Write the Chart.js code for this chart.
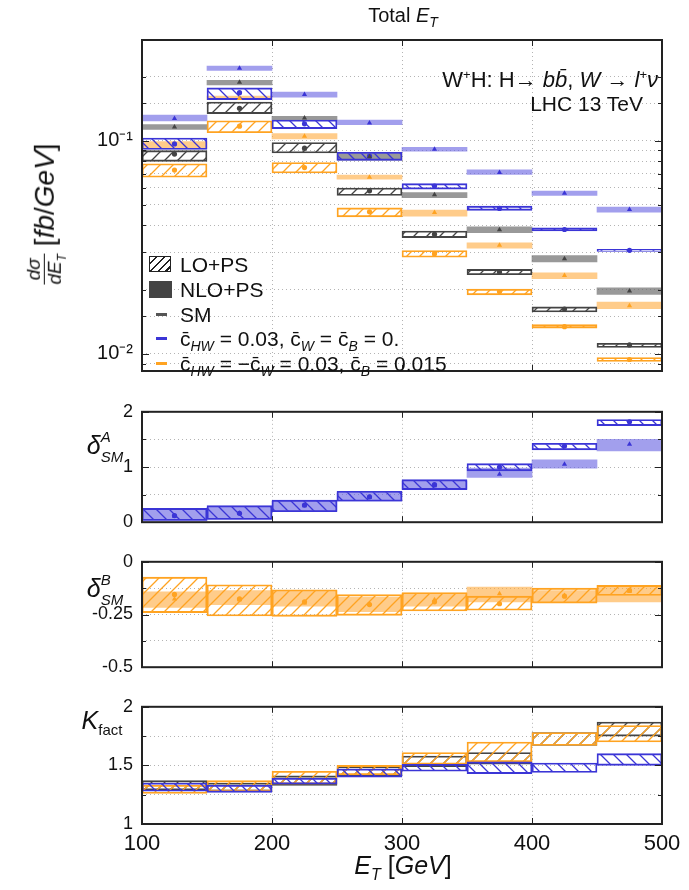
<!DOCTYPE html>
<html>
<head>
<meta charset="utf-8">
<script src="https://cdn.jsdelivr.net/npm/chart.js@4.4.1/dist/chart.umd.min.js"></script>
<style>
  body { margin: 0; background: #fff; }
  #wrap { position: relative; width: 689px; height: 890px; font-family: "Liberation Sans", Arial, sans-serif; color: #111; }
  #wrap canvas { position: absolute; left: 0; }
  .lbl { position: absolute; white-space: nowrap; line-height: 1; }
  .mid { transform: translate(-50%, -50%); }
  .frac { display: inline-flex; flex-direction: column; vertical-align: middle; font-size: 19px; text-align: center; line-height: 1.05; }
  .frac .num { border-bottom: 1.3px solid #111; padding: 0 1px; }
  .ss { display: inline-block; vertical-align: -0.5em; line-height: 1.3; font-size: 15px; }
  .ss span { display: block; }
  .leg { position: absolute; left: 149px; font-size: 21px; white-space: nowrap; }
  .leg .txt { position: absolute; left: 31px; top: -11px; }
  .leg sub { font-size: 14px; font-style: italic; }
  .box { position: absolute; left: 0; top: -8px; width: 20px; height: 14px; }
  .dash { position: absolute; left: 7px; top: -1.5px; width: 11px; height: 3px; }
</style>
</head>
<body>
<div id="wrap">
  <canvas id="main" width="689" height="392" style="top:0"></canvas>
  <canvas id="deltaA" width="689" height="150" style="top:392px"></canvas>
  <canvas id="deltaB" width="689" height="145" style="top:542px"></canvas>
  <canvas id="kfact" width="689" height="203" style="top:687px"></canvas>

  <div class="lbl mid" style="left:403px; top:17px; font-size:20px;">Total <i>E<sub style="font-size:14px">T</sub></i></div>

  <div class="lbl" style="right:31px; top:68px; font-size:22px;">W<sup style="font-size:13px">+</sup>H: H&rarr; <i>b</i><i>b&#772;</i>, <i>W</i> &rarr; <i>l</i><sup style="font-size:13px">+</sup><i>&nu;</i></div>
  <div class="lbl" style="right:46px; top:93px; font-size:21px;">LHC 13 TeV</div>

  <div class="lbl" style="left:46px; top:214px; transform: translate(-50%, -50%) rotate(-90deg); font-size:28px;">
    <span class="frac"><span class="num"><i>d&sigma;</i></span><span><i>dE<sub style="font-size:12px">T</sub></i></span></span>
    [<i>fb</i>/<i>GeV</i>]
  </div>
  <div class="lbl mid" style="left:105px; top:446px; font-size:25px;"><i>&delta;</i><span class="ss"><span><i>A</i></span><span><i>SM</i></span></span></div>
  <div class="lbl mid" style="left:105px; top:589px; font-size:25px;"><i>&delta;</i><span class="ss"><span><i>B</i></span><span><i>SM</i></span></span></div>
  <div class="lbl mid" style="left:102px; top:722px; font-size:25px;"><i>K</i><sub style="font-size:15px">fact</sub></div>
  <div class="lbl mid" style="left:403px; top:868px; font-size:25px;"><i>E<sub style="font-size:16px">T</sub></i> [<i>GeV</i>]</div>

  <div class="leg" style="top:264px">
    <div class="box" style="border:1.5px solid #222; background: repeating-linear-gradient(135deg, transparent 0 4px, #222 4px 5.5px);"></div>
    <div class="txt">LO+PS</div>
  </div>
  <div class="leg" style="top:289px">
    <div class="box" style="background:#444; width:23px; height:17px;"></div>
    <div class="txt">NLO+PS</div>
  </div>
  <div class="leg" style="top:314px">
    <div class="dash" style="background:#555"></div>
    <div class="txt">SM</div>
  </div>
  <div class="leg" style="top:338px">
    <div class="dash" style="background:#3b35d6"></div>
    <div class="txt">c&#772;<sub>HW</sub> = 0.03, c&#772;<sub>W</sub> = c&#772;<sub>B</sub> = 0.</div>
  </div>
  <div class="leg" style="top:363px">
    <div class="dash" style="background:#ffa321"></div>
    <div class="txt">c&#772;<sub>HW</sub> = &minus;c&#772;<sub>W</sub> = 0.03, c&#772;<sub>B</sub> = 0.015</div>
  </div>
</div>

<script>
// E_T bins, 50 GeV wide, from 100 to 500 GeV
const binCenters = [125, 175, 225, 275, 325, 375, 425, 475];

// dsigma/dE_T [fb/GeV] -- SM
const smLoLow = [0.080, 0.134, 0.0876, 0.0553, 0.0351, 0.0235, 0.0157, 0.0107];
const smLoHigh = [0.0898, 0.152, 0.098, 0.060, 0.0377, 0.0249, 0.0166, 0.0112];
const smLo = [0.0866, 0.142, 0.0923, 0.0582, 0.0364, 0.0242, 0.0162, 0.0110];
const smNloLow = [0.113, 0.183, 0.125, 0.081, 0.0541, 0.0370, 0.0270, 0.0190];
const smNloHigh = [0.119, 0.192, 0.130, 0.087, 0.0571, 0.0394, 0.0289, 0.0204];
const smNlo = [0.116, 0.188, 0.128, 0.084, 0.0557, 0.0382, 0.0279, 0.0197];

// cHW = 0.03, cW = cB = 0
const aLoLow = [0.091, 0.156, 0.114, 0.0809, 0.0593, 0.0471, 0.0377, 0.0302];
const aLoHigh = [0.103, 0.177, 0.125, 0.0882, 0.0629, 0.0493, 0.039, 0.0309];
const aLo = [0.0966, 0.168, 0.120, 0.0846, 0.0613, 0.0481, 0.0383, 0.0306];
const aNloLow = [0.124, 0.214, 0.160, 0.119, 0.0892, 0.0694, 0.0553, 0.0462];
const aNloHigh = [0.132, 0.224, 0.169, 0.125, 0.0932, 0.0730, 0.058, 0.0488];
const aNlo = [0.127, 0.219, 0.165, 0.121, 0.0913, 0.0710, 0.0567, 0.0476];

// cHW = -cW = 0.03, cB = 0.015
const bLoLow = [0.0674, 0.109, 0.0706, 0.0439, 0.0284, 0.0189, 0.0132, 0.0092];
const bLoHigh = [0.078, 0.124, 0.079, 0.0484, 0.0305, 0.0201, 0.0137, 0.0096];
const bLo = [0.0728, 0.117, 0.0748, 0.0464, 0.0295, 0.0196, 0.0134, 0.0094];
const bNloLow = [0.092, 0.156, 0.102, 0.066, 0.0443, 0.0313, 0.0225, 0.0163];
const bNloHigh = [0.099, 0.162, 0.108, 0.069, 0.0473, 0.0332, 0.0240, 0.0175];
const bNlo = [0.096, 0.158, 0.105, 0.0674, 0.0460, 0.0323, 0.0233, 0.0168];

// relative deviation from SM, scenario A
const dALoLow = [0.03, 0.05, 0.19, 0.38, 0.59, 0.93, 1.31, 1.75];
const dALoHigh = [0.25, 0.30, 0.40, 0.56, 0.77, 1.06, 1.43, 1.86];
const dALo = [0.12, 0.16, 0.31, 0.46, 0.68, 1.00, 1.38, 1.82];
const dANloLow = [0.02, 0.05, 0.20, 0.38, 0.60, 0.81, 0.98, 1.29];
const dANloHigh = [0.22, 0.27, 0.38, 0.53, 0.75, 0.98, 1.13, 1.50];
const dANlo = [0.11, 0.16, 0.30, 0.45, 0.66, 0.87, 1.05, 1.41];

// relative deviation from SM, scenario B
const dBLoLow = [-0.241, -0.257, -0.259, -0.254, -0.233, -0.230, -0.196, -0.160];
const dBLoHigh = [-0.073, -0.109, -0.133, -0.156, -0.146, -0.163, -0.125, -0.112];
const dBLo = [-0.155, -0.176, -0.19, -0.203, -0.19, -0.199, -0.163, -0.136];
const dBNloLow = [-0.217, -0.203, -0.21, -0.237, -0.21, -0.19, -0.19, -0.19];
const dBNloHigh = [-0.142, -0.136, -0.136, -0.169, -0.149, -0.12, -0.136, -0.112];
const dBNlo = [-0.176, -0.18, -0.195, -0.2, -0.18, -0.152, -0.16, -0.14];

// K factors NLO/LO
const kSmLow = [1.29, 1.28, 1.33, 1.41, 1.49, 1.51, 1.67, 1.75];
const kSmHigh = [1.37, 1.35, 1.41, 1.49, 1.58, 1.61, 1.78, 1.87];
const kALow = [1.28, 1.27, 1.34, 1.40, 1.45, 1.43, 1.44, 1.50];
const kAHigh = [1.35, 1.33, 1.39, 1.47, 1.51, 1.53, 1.52, 1.60];
const kBLow = [1.26, 1.28, 1.34, 1.42, 1.51, 1.53, 1.67, 1.70];
const kBHigh = [1.33, 1.37, 1.45, 1.50, 1.61, 1.70, 1.78, 1.84];

// tick labels
const logLabelValues = [0.1, 0.01];
const logLabelText = ["10\u207b\u00b9", "10\u207b\u00b2"];
const dATickLabels = [0, 1, 2];
const dBTickLabels = [0, -0.25, -0.5];
const kTickLabels = [1, 1.5, 2];

const fontFam = "'Liberation Sans', Arial, sans-serif";
const gridColor = "#b4b4b4";

const grayLine = "#444";
const blueLine = "#3b35d6";
const orangeLine = "#ffa321";
const grayFill = "rgba(110,110,110,0.7)";
const blueFill = "rgba(100,95,225,0.6)";
const orangeFill = "rgba(255,170,60,0.6)";

function hatch(color, dir) {
  const s = 13;
  const c = document.createElement("canvas");
  c.width = s;
  c.height = s;
  const g = c.getContext("2d");
  g.strokeStyle = color;
  g.lineWidth = 1.3;
  g.beginPath();
  if (dir > 0) {
    g.moveTo(0, s); g.lineTo(s, 0);
    g.moveTo(-2, 2); g.lineTo(2, -2);
    g.moveTo(s - 2, s + 2); g.lineTo(s + 2, s - 2);
  } else {
    g.moveTo(0, 0); g.lineTo(s, s);
    g.moveTo(-2, s - 2); g.lineTo(2, s + 2);
    g.moveTo(s - 2, -2); g.lineTo(s + 2, 2);
  }
  g.stroke();
  return g.createPattern(c, "repeat");
}

const grayHatch = hatch(grayLine, 1);
const blueHatch = hatch(blueLine, -1);
const orangeHatch = hatch(orangeLine, 1);

function band(low, high, fill, border, order) {
  return {
    type: "bar",
    data: binCenters.map((x, i) => ({ x: x, y: [low[i], high[i]] })),
    backgroundColor: fill,
    borderColor: border || "rgba(0,0,0,0)",
    borderWidth: border ? 1.2 : 0,
    borderSkipped: false,
    grouped: false,
    barPercentage: 1,
    categoryPercentage: 1,
    order: order,
  };
}

function marks(vals, color, style) {
  return {
    type: "line",
    data: binCenters.map((x, i) => ({ x: x, y: vals[i] })),
    showLine: false,
    pointStyle: style,
    pointRadius: style === "triangle" ? 3 : 2.6,
    pointBackgroundColor: color,
    pointBorderColor: color,
    pointBorderWidth: 0,
    order: 0,
  };
}

// dark frame with small inward tick marks, drawn over the data
const framePlugin = {
  id: "frame",
  afterDatasetsDraw(chart) {
    const { ctx, chartArea: a, scales } = chart;
    ctx.save();
    ctx.strokeStyle = "#222";
    ctx.lineWidth = 1;
    ctx.beginPath();
    scales.y.ticks.forEach((t) => {
      const py = Math.round(scales.y.getPixelForValue(t.value)) + 0.5;
      const len = t.label ? 7 : 4;
      ctx.moveTo(a.left, py); ctx.lineTo(a.left + len, py);
      ctx.moveTo(a.right, py); ctx.lineTo(a.right - len, py);
    });
    scales.x.ticks.forEach((t) => {
      const px = Math.round(scales.x.getPixelForValue(t.value)) + 0.5;
      ctx.moveTo(px, a.top); ctx.lineTo(px, a.top + 6);
      ctx.moveTo(px, a.bottom); ctx.lineTo(px, a.bottom - 6);
    });
    ctx.stroke();
    ctx.lineWidth = 2;
    ctx.strokeRect(a.left, a.top, a.right - a.left, a.bottom - a.top);
    ctx.restore();
  },
};

function xScale(showLabels) {
  return {
    type: "linear",
    min: 100,
    max: 500,
    offset: false,
    grid: { color: gridColor, offset: false, drawTicks: false },
    border: { display: false, dash: [1, 3] },
    ticks: {
      display: showLabels,
      stepSize: 100,
      padding: 7,
      autoSkip: false,
      maxRotation: 0,
      color: "#111",
      font: { family: fontFam, size: 22 },
    },
    afterFit: (s) => { s.height = showLabels ? 66 : 10; },
  };
}

function linY(min, max, step, labels) {
  return {
    type: "linear",
    min: min,
    max: max,
    grid: { color: gridColor, drawTicks: false },
    border: { display: false, dash: [1, 3] },
    ticks: {
      stepSize: step,
      padding: 9,
      autoSkip: false,
      color: "#111",
      font: { family: fontFam, size: 18 },
      callback: (v) => (labels.some((l) => Math.abs(l - v) < 1e-9) ? String(v) : ""),
    },
    afterFit: (s) => { s.width = 142; },
  };
}

function logY(min, max) {
  return {
    type: "logarithmic",
    min: min,
    max: max,
    grid: { color: gridColor, drawTicks: false },
    border: { display: false, dash: [1, 3] },
    afterBuildTicks: (s) => {
      s.ticks = s.ticks.filter((t) => t.value >= s.min * 0.999 && t.value <= s.max * 1.001);
    },
    ticks: {
      padding: 9,
      autoSkip: false,
      color: "#111",
      font: { family: fontFam, size: 20 },
      callback: (v) => {
        const i = logLabelValues.findIndex((l) => Math.abs(l - v) / l < 1e-6);
        return i >= 0 ? logLabelText[i] : "";
      },
    },
    afterFit: (s) => { s.width = 142; },
  };
}

function makeChart(id, datasets, yScale, showX, padTop) {
  return new Chart(document.getElementById(id), {
    type: "bar",
    data: { datasets: datasets },
    options: {
      responsive: false,
      animation: false,
      layout: { padding: { top: padTop, right: 27, left: 0, bottom: 0 } },
      scales: { x: xScale(showX), y: yScale },
      plugins: { legend: { display: false }, tooltip: { enabled: false } },
    },
    plugins: [framePlugin],
  });
}

makeChart("main", [
  band(smNloLow, smNloHigh, grayFill, null, 3),
  band(aNloLow, aNloHigh, blueFill, null, 3),
  band(bNloLow, bNloHigh, orangeFill, null, 3),
  band(smLoLow, smLoHigh, grayHatch, grayLine, 2),
  band(aLoLow, aLoHigh, blueHatch, blueLine, 2),
  band(bLoLow, bLoHigh, orangeHatch, orangeLine, 2),
  marks(smLo, grayLine, "circle"),
  marks(smNlo, grayLine, "triangle"),
  marks(aLo, blueLine, "circle"),
  marks(aNlo, blueLine, "triangle"),
  marks(bLo, orangeLine, "circle"),
  marks(bNlo, orangeLine, "triangle"),
], logY(0.0083, 0.297), false, 40);

makeChart("deltaA", [
  band(dANloLow, dANloHigh, blueFill, null, 3),
  band(dALoLow, dALoHigh, blueHatch, blueLine, 2),
  marks(dALo, blueLine, "circle"),
  marks(dANlo, blueLine, "triangle"),
], linY(0, 2, 0.5, dATickLabels), false, 14);

makeChart("deltaB", [
  band(dBNloLow, dBNloHigh, orangeFill, null, 3),
  band(dBLoLow, dBLoHigh, orangeHatch, orangeLine, 2),
  marks(dBLo, orangeLine, "circle"),
  marks(dBNlo, orangeLine, "triangle"),
], linY(-0.5, 0, 0.125, dBTickLabels), false, 11);

makeChart("kfact", [
  band(kALow, kAHigh, blueHatch, blueLine, 2),
  band(kBLow, kBHigh, orangeHatch, orangeLine, 2),
  band(kSmLow, kSmHigh, grayHatch, grayLine, 2),
], linY(1, 2, 0.25, kTickLabels), true, 11);
</script>
</body>
</html>
